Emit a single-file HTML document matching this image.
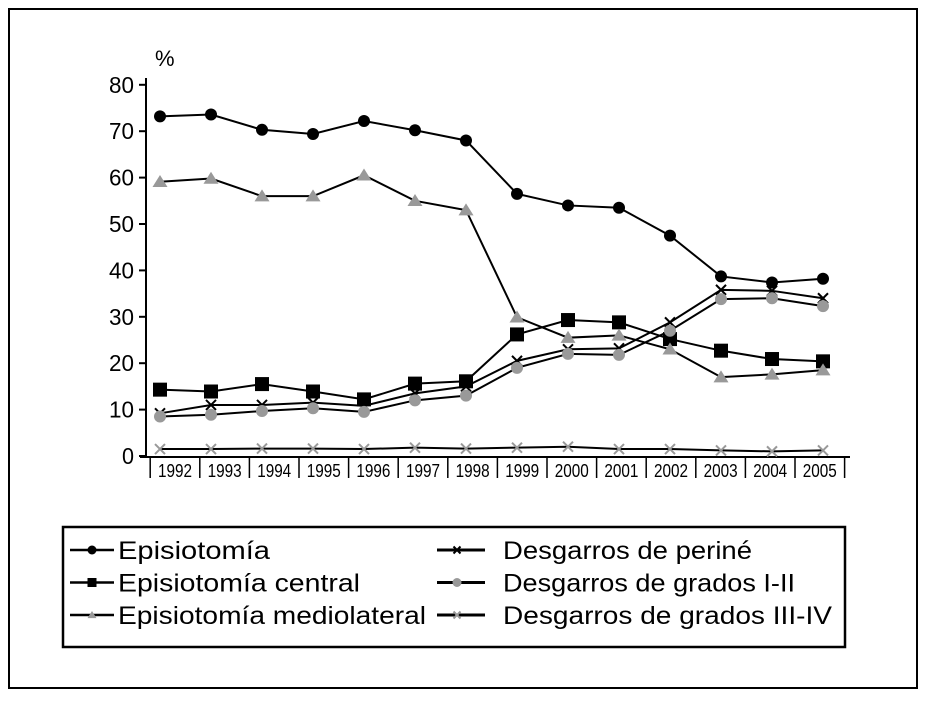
<!DOCTYPE html>
<html><head><meta charset="utf-8"><style>
body{margin:0;background:#fff;font-family:"Liberation Sans",sans-serif}
</style></head><body>
<svg id="c" width="926" height="697" xmlns="http://www.w3.org/2000/svg" font-family="Liberation Sans, sans-serif">
<rect x="9" y="9" width="908" height="679" fill="none" stroke="#000" stroke-width="2"/>
<g id="axes"></g><g id="series"></g>
<g>
<rect x="63" y="527" width="782" height="120" fill="none" stroke="#000" stroke-width="2.5"/>
</g>
<g id="leg"></g>
</svg>
<script>
const years=["1992","1993","1994","1995","1996","1997","1998","1999","2000","2001","2002","2003","2004","2005"];
const yTicks=[0,10,20,30,40,50,60,70,80];
const episiotomia=[73.2,73.6,70.3,69.4,72.2,70.2,68,56.5,54,53.5,47.5,38.7,37.4,38.2];
const central=[14.3,13.9,15.5,13.9,12.2,15.6,16.1,26.2,29.3,28.8,25.2,22.7,20.9,20.4];
const mediolateral=[59.1,59.8,56,56,60.5,55,53,29.9,25.5,26,23,17,17.6,18.5];
const perine=[9.2,11,11,11.5,10.8,13.5,15,20.5,23,23.2,28.8,35.8,35.6,34];
const grados12=[8.5,8.9,9.7,10.3,9.5,12,13,19,22,21.8,27,33.8,34,32.3];
const grados34=[1.5,1.5,1.6,1.6,1.5,1.8,1.6,1.8,2,1.5,1.5,1.2,1,1.2];
const NS="http://www.w3.org/2000/svg";
const y=v=>456-v*4.64;
const x=i=>160+i*(663/(years.length-1));
const lx=i=>175+i*49.6;
function mk(t,a,p){const e=document.createElementNS(NS,t);for(const k in a)e.setAttribute(k,a[k]);p.appendChild(e);return e;}
const ax=document.getElementById('axes');
let l=mk('line',{x1:146,y1:78,x2:146,y2:458,stroke:'#000','stroke-width':2},ax);


l=mk('line',{x1:140,y1:457,x2:850,y2:457,stroke:'#000','stroke-width':2},ax);


let t=mk('text',{x:155,y:66,'font-size':22},ax);t.textContent='%';


yTicks.forEach(v=>{
 mk('line',{x1:139,y1:y(v),x2:146,y2:y(v),stroke:'#000','stroke-width':2},ax);
 const tt=mk('text',{x:134,y:y(v)+8,'font-size':23,'text-anchor':'end',textLength:v?25:12,lengthAdjust:'spacingAndGlyphs'},ax);tt.textContent=v;
 
 
});
years.forEach((yr,i)=>{
 const sx=lx(i)-24.8;
 mk('line',{x1:sx,y1:457,x2:sx,y2:478,stroke:'#000','stroke-width':1.5},ax);
 if(i==years.length-1) mk('line',{x1:sx+49.6,y1:457,x2:sx+49.6,y2:478,stroke:'#000','stroke-width':1.5},ax);
 const tt=mk('text',{x:lx(i),y:477,'font-size':18,'text-anchor':'middle',textLength:34,lengthAdjust:'spacingAndGlyphs'},ax);tt.textContent=yr;
 
 
});
function marker(type,cx,cy,g,s){
 if(type=='circle')mk('circle',{cx,cy,r:s||6,fill:g.fill},g.el);
 else if(type=='square'){const k=s||7;mk('rect',{x:cx-k,y:cy-k,width:2*k,height:2*k,fill:g.fill},g.el);}
 else if(type=='tri'){const k=s||7.5;mk('polygon',{points:`${cx-k},${cy+k*0.7} ${cx+k},${cy+k*0.7} ${cx},${cy-k*0.9}`,fill:g.fill},g.el);}
 else{const k=s||5;mk('path',{d:`M${cx-k} ${cy-k}L${cx+k} ${cy+k}M${cx+k} ${cy-k}L${cx-k} ${cy+k}`,stroke:g.fill,'stroke-width':2},g.el);}
}
const series=[
 {name:'episiotomia',data:episiotomia,m:'circle',fill:'#000',label:'Episiotomía',w:152},
 {name:'episiotomia-central',data:central,m:'square',fill:'#000',label:'Episiotomía central',w:242},
 {name:'episiotomia-mediolateral',data:mediolateral,m:'tri',fill:'#999',label:'Episiotomía mediolateral',w:308},
 {name:'desgarros-perine',data:perine,m:'x',fill:'#000',label:'Desgarros de periné',w:249},
 {name:'desgarros-grados-1-2',data:grados12,m:'circle',fill:'#999',label:'Desgarros de grados I-II',w:292},
 {name:'desgarros-grados-3-4',data:grados34,m:'x',fill:'#999',label:'Desgarros de grados III-IV',w:329}
];
const sg=document.getElementById('series');
series.forEach(s=>{
 const g=mk('g',{},sg);
 
 
 mk('polyline',{points:s.data.map((v,i)=>x(i)+','+y(v)).join(' '),fill:'none',stroke:'#000','stroke-width':2},g);
 s.data.forEach((v,i)=>marker(s.m,x(i),y(v),{el:g,fill:s.fill}));
});
const lg=document.getElementById('leg');
series.forEach((s,i)=>{
 const col=i<3?0:1,row=i%3;
 const x0=col?437:70, yy=550+row*32.5, tx=col?503:118;
 const g=mk('g',{},lg);
 
 
 mk('line',{x1:x0,y1:yy,x2:x0+(col?48:44),y2:yy,stroke:'#000','stroke-width':col?3:2.5},g);
 marker(s.m,x0+(col?20:22),yy,{el:g,fill:s.fill},s.m=='x'?3.5:4.5);
 const tt=mk('text',{x:tx,y:yy+9,'font-size':25,textLength:s.w,lengthAdjust:'spacingAndGlyphs'},g);tt.textContent=s.label;
});
</script>
</body></html>
